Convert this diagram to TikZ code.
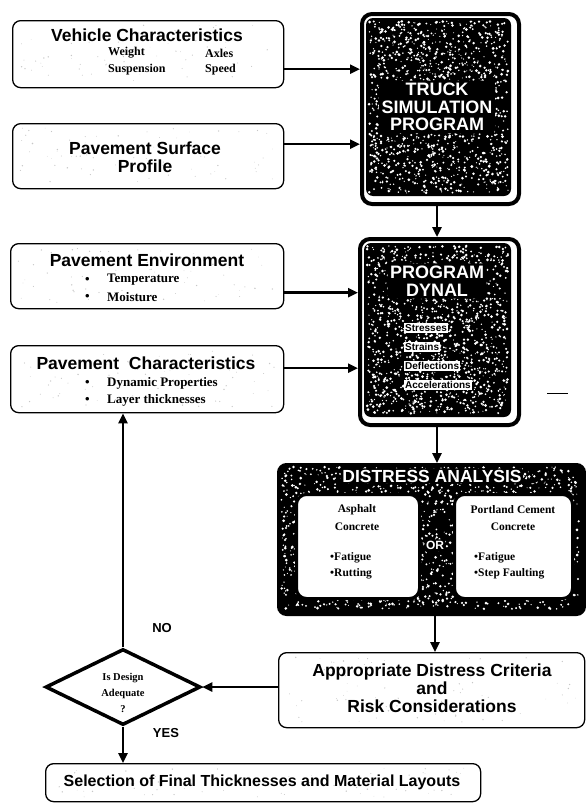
\documentclass[tikz,border=0pt]{standalone}
\usepackage{fontspec}
\setmainfont{Liberation Serif}
\setsansfont{Liberation Sans}
\usetikzlibrary{shapes.geometric,arrows.meta,calc}
\newcommand\whitespeck[5]{%
  \foreach \k in {1,...,#5}{\fill[white] ({#1+#3*rnd},{#2+#4*rnd}) circle ({0.5+1.0*rnd});}}
\newcommand\grayspeck[5]{%
  \foreach \k in {1,...,#5}{\fill[black!22] ({#1+#3*rnd},{#2+#4*rnd}) circle ({0.3+0.5*rnd});}}
\tikzset{
  lightbox/.style={draw=black, line width=1.3pt, rounded corners=8pt, fill=white, anchor=north west, inner sep=0pt},
  darkbox/.style={draw=black, line width=4pt, rounded corners=10pt, fill=white, anchor=north west, inner sep=0pt},
  arr/.style={line width=2.4pt, -{Triangle[length=10pt,width=9pt]}},
  ttl/.style={font=\sffamily\bfseries\fontsize{17.5}{18}\selectfont, align=center, inner sep=0pt},
  sub/.style={font=\rmfamily\bfseries\fontsize{12}{13}\selectfont, anchor=west, inner sep=0pt},
  subb/.style={font=\rmfamily\bfseries\fontsize{13}{14}\selectfont, anchor=west, inner sep=0pt},
  wtxt/.style={font=\sffamily\bfseries\fontsize{18}{17.5}\selectfont, text=white, fill=black, rounded corners=3pt, align=center, inner sep=2.5pt},
  tag/.style={font=\sffamily\bfseries\fontsize{10}{10}\selectfont, fill=white, inner sep=1pt, anchor=west},
  dtxt/.style={font=\rmfamily\bfseries\fontsize{11.5}{12}\selectfont, inner sep=0pt},
  yn/.style={font=\sffamily\bfseries\fontsize{13}{14}\selectfont, inner sep=0pt},
}
\begin{document}
\begin{tikzpicture}[x=1pt,y=-1pt]
\pgfmathsetseed{11}
\useasboundingbox (0,0) rectangle (586,803);
\fill[white] (0,0) rectangle (586,803);

% ---------- light boxes ----------
\node[lightbox, minimum width=271pt, minimum height=67pt] (veh) at (12,20) {};
\grayspeck{20}{25}{255}{56}{70}
\node[ttl] (vehT) at (147,35) {Vehicle Characteristics};
\node[sub] (vw) at (108,53) {Weight};
\node[sub] (vs) at (108,70) {Suspension};
\node[sub] (va) at (205,53) {Axles};
\node[sub] (vsp) at (205,70) {Speed};

\node[lightbox, minimum width=271pt, minimum height=65pt] (surf) at (12,123) {};
\grayspeck{20}{128}{255}{55}{70}
\node[ttl] (surfT) at (145,157) {Pavement Surface\\Profile};

\node[lightbox, minimum width=273pt, minimum height=65pt] (env) at (10,243) {};
\grayspeck{18}{248}{257}{55}{70}
\node[ttl] (envT) at (147,260) {Pavement Environment};
\node[subb] (e1b) at (85,280) {\textbullet};
\node[subb] (e1) at (107,280) {Temperature};
\node[subb] (e2b) at (85,297) {\textbullet};
\node[subb] (e2) at (107,297) {Moisture};

\node[lightbox, minimum width=273pt, minimum height=67pt] (pch) at (10,345) {};
\grayspeck{18}{350}{257}{57}{70}
\node[ttl] (pchT) at (146,363) {Pavement~ Characteristics};
\node[subb] (c1b) at (85,383) {\textbullet};
\node[subb] (c1) at (107,383) {Dynamic Properties};
\node[subb] (c2b) at (85,400) {\textbullet};
\node[subb] (c2) at (107,400) {Layer thicknesses};

% ---------- truck simulation ----------
\node[darkbox, minimum width=157pt, minimum height=190pt] (truck) at (360,12) {};
\fill[black, rounded corners=7pt] (366,18) rectangle (511,196);
\whitespeck{369}{21}{139}{172}{1300}
\node[wtxt] (truckT) at (437,107) {TRUCK\\SIMULATION\\PROGRAM};

% ---------- program dynal ----------
\node[darkbox, minimum width=159pt, minimum height=186pt] (dyn) at (358,237) {};
\fill[black, rounded corners=7pt] (364,243) rectangle (511,417);
\whitespeck{367}{246}{141}{168}{1300}
\node[wtxt] (dynT) at (437,281) {PROGRAM\\DYNAL};
\node[tag] (t1) at (404,328) {Stresses};
\node[tag] (t2) at (404,347) {Strains};
\node[tag] (t3) at (404,366) {Deflections};
\node[tag] (t4) at (404,385) {Accelerations};

% ---------- distress analysis ----------
\node[draw=black, line width=3pt, rounded corners=8pt, fill=black, minimum width=306pt, minimum height=150pt, anchor=north west, inner sep=0pt] (dist) at (277,463) {};
\whitespeck{281}{467}{298}{142}{1700}
\node[draw=black, line width=3pt, rounded corners=10pt, fill=white, minimum width=123pt, minimum height=104pt, anchor=north west, inner sep=0pt] (asph) at (295,493) {};
\node[draw=black, line width=3pt, rounded corners=10pt, fill=white, minimum width=118pt, minimum height=104pt, anchor=north west, inner sep=0pt] (pcc) at (453,493) {};
\node[wtxt, font=\sffamily\bfseries\fontsize{17.5}{18}\selectfont, inner sep=1.5pt] (distT) at (432,476) {DISTRESS ANALYSIS};
\node[wtxt, font=\sffamily\bfseries\fontsize{12}{13}\selectfont, inner sep=1.5pt] (orT) at (435,545) {OR};
\node[dtxt] (a1) at (357,510) {Asphalt};
\node[dtxt] (a2) at (357,527) {Concrete};
\node[dtxt, anchor=west] (a3) at (330,558) {\textbullet Fatigue};
\node[dtxt, anchor=west] (a4) at (330,574) {\textbullet Rutting};
\node[dtxt] (p1) at (513,510) {Portland Cement};
\node[dtxt] (p2) at (513,527) {Concrete};
\node[dtxt, anchor=west] (p3) at (474,558) {\textbullet Fatigue};
\node[dtxt, anchor=west] (p4) at (474,574) {\textbullet Step Faulting};

% ---------- criteria ----------
\node[lightbox, minimum width=306pt, minimum height=75pt] (crit) at (278,652) {};
\grayspeck{286}{657}{290}{65}{90}
\node[ttl] (critT) at (432,688) {Appropriate Distress Criteria\\and\\Risk Considerations};

% ---------- decision ----------
\node[diamond, draw=black, line width=3.5pt, fill=white, minimum width=155pt, minimum height=76pt, inner sep=0pt] (dia) at (123,687) {};
\node[dtxt, align=center, font=\rmfamily\bfseries\fontsize{10.5}{16}\selectfont] (diaT) at (123,693) {Is Design\\Adequate\\?};

% ---------- selection ----------
\node[lightbox, minimum width=435pt, minimum height=38pt] (sel) at (45,763) {};
\grayspeck{52}{767}{420}{30}{80}
\node[ttl, font=\sffamily\bfseries\fontsize{16}{17}\selectfont] (selT) at (262,782) {Selection of Final Thicknesses and Material Layouts};

% ---------- labels ----------
\node[yn] (no) at (162,628) {NO};
\node[yn] (yes) at (166,733) {YES};

% ---------- connectors ----------
\draw[arr] ([yshift=-15pt]veh.east) -- ([yshift=-15pt]veh.east -| truck.west);
\draw[arr] ([yshift=12pt]surf.east) -- ([yshift=12pt]surf.east -| truck.west);
\draw[arr] (truck.south -| 437,0) -- (dyn.north -| 437,0);
\draw[arr] ([yshift=-16.5pt]env.east) -- ([yshift=-16.5pt]env.east -| dyn.west);
\draw[arr] ([yshift=11pt]pch.east) -- ([yshift=11pt]pch.east -| dyn.west);
\draw[arr] (dyn.south -| 437,0) -- (dist.north -| 437,0);
\draw[arr] (dist.south -| 435,0) -- (crit.north -| 435,0);
\draw[arr] (crit.west |- dia.east) -- (dia.east);
\draw[arr] (dia.north) -- (dia.north |- pch.south);
\draw[arr] (dia.south) -- (dia.south |- sel.north);
\draw[line width=1pt] (547,393) -- (568,393);
\end{tikzpicture}
\end{document}
